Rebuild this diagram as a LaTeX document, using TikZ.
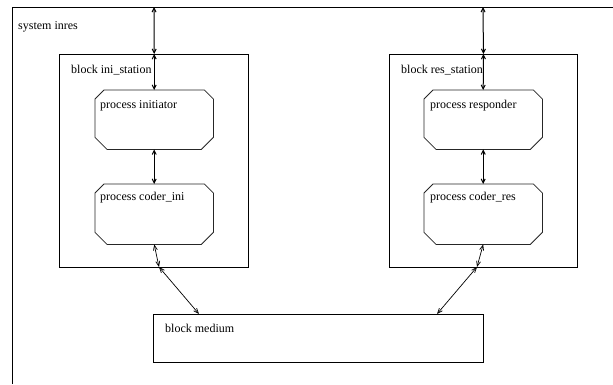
\documentclass[tikz,border=0pt]{standalone}
\usepackage{fontspec}
\setmainfont{Liberation Serif}
\usetikzlibrary{arrows.meta,calc}
\tikzset{
  x=1pt, y=-1pt,
  frameline/.style={draw, line width=0.9pt},
  blk/.style={draw, line width=0.9pt, anchor=north west, inner sep=0pt},
  proc/.style={anchor=north west, inner sep=0pt, minimum width=118pt},
  procline/.style={draw, line width=0.8pt, black!85},
  lbl/.style={anchor=base west, inner sep=0pt, font=\fontsize{12}{14}\selectfont},
  chan/.style={line width=1pt, {Straight Barb[length=4pt,width=4pt]}-{Straight Barb[length=4pt,width=4pt]}},
  thinchan/.style={line width=0.7pt, {Straight Barb[length=5pt,width=4pt]}-{Straight Barb[length=5pt,width=4pt]}},
}
\newcommand{\octa}[1]{%
  \draw[procline] ($(#1.north west)+(9pt,0pt)$) -- ($(#1.north east)+(-9pt,0pt)$)
    -- ($(#1.north east)+(0pt,-9pt)$) -- ($(#1.south east)+(0pt,12pt)$)
    -- ($(#1.south east)+(-12pt,0pt)$) -- ($(#1.south west)+(12pt,0pt)$)
    -- ($(#1.south west)+(0pt,12pt)$) -- ($(#1.north west)+(0pt,-9pt)$) -- cycle;}
\begin{document}
\begin{tikzpicture}
\useasboundingbox (0,0) rectangle (613,384);
% system frame
\draw[frameline] (12,384) -- (12,7) -- (613,7);
\node[lbl] (syslbl) at (18,29.5) {system inres};
\coordinate (sysini) at (154,7);
\coordinate (sysres) at (483,7);

% blocks
\node[blk, minimum width=189pt, minimum height=213pt] (ini) at (59,54) {};
\node[lbl] (inilbl) at (71,73) {block ini\_station};
\node[blk, minimum width=188pt, minimum height=213pt] (res) at (389,54) {};
\node[lbl] (reslbl) at (401,73) {block res\_station};
\node[blk, minimum width=330pt, minimum height=48pt] (med) at (153,314) {};
\node[lbl] (medlbl) at (165,332) {block medium};

% processes
\node[proc, minimum height=59pt] (initiator) at (95,90) {};
\octa{initiator}
\node[lbl] (initlbl) at (100,108) {process initiator};
\node[proc, minimum height=60pt] (coderini) at (95,184) {};
\octa{coderini}
\node[lbl] (coderinilbl) at (100,200) {process coder\_ini};

\node[proc, minimum height=59pt] (responder) at (424,90) {};
\octa{responder}
\node[lbl] (resplbl) at (430,108) {process responder};
\node[proc, minimum height=60pt] (coderres) at (424,184) {};
\octa{coderres}
\node[lbl] (coderreslbl) at (430,200) {process coder\_res};

% ports
\coordinate (iniport) at (159,267);
\coordinate (resport) at (477,267);
\coordinate (medini) at (199,314);
\coordinate (medres) at (437,314);

% channels
\draw[chan] (sysini) -- (initiator.north |- ini.north);
\draw[chan] (initiator.north |- ini.north) -- (initiator.north);
\draw[chan] (initiator.south) -- (coderini.north);
\draw[thinchan] (coderini.south) -- (iniport);
\draw[thinchan] (iniport) -- (medini);

\draw[chan] (sysres) -- (res.north);
\draw[chan] (res.north) -- (responder.north);
\draw[chan] (responder.south) -- (coderres.north);
\draw[thinchan] (coderres.south) -- (resport);
\draw[thinchan] (resport) -- (medres);
\end{tikzpicture}
\end{document}
